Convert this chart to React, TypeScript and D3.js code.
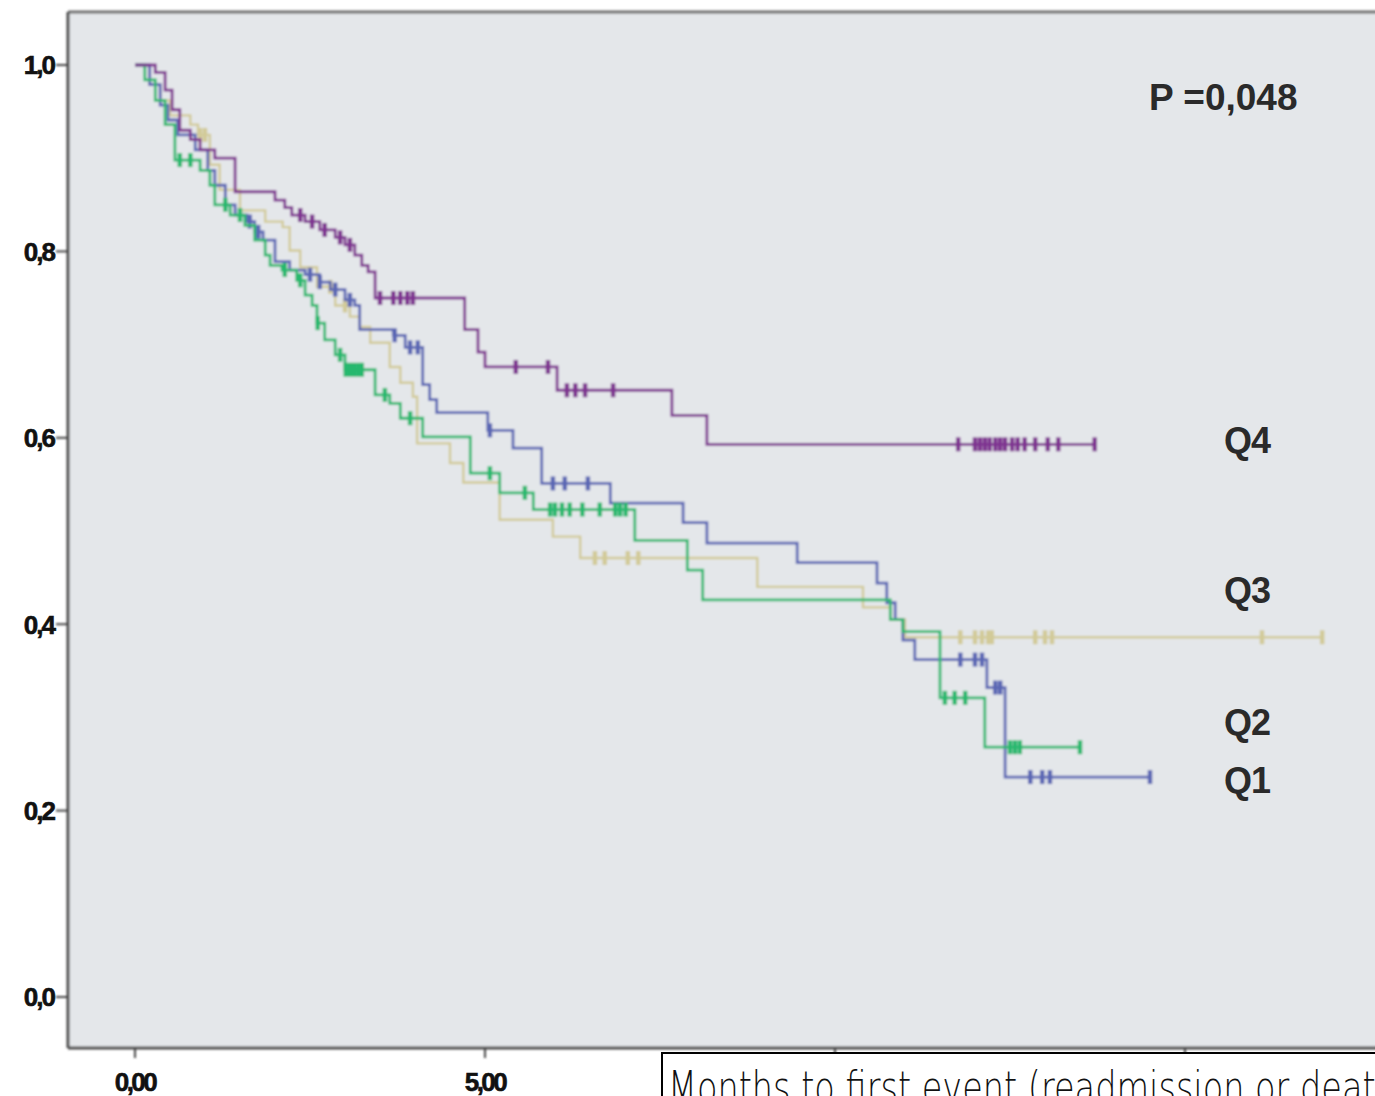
import React from "react";
import * as d3 from "d3";

// ---- Data (time in months, survival proportion) ----
const q4Times = [0, 0.29, 0.43, 0.53, 0.64, 0.79, 0.93, 1.14, 1.43, 2.0, 2.14, 2.24, 2.43, 2.64, 2.86, 3.0, 3.14, 3.24, 3.33, 3.43, 4.71, 4.9, 5.0, 6.03, 7.67, 8.17];
const q4Surv = [1.0, 0.992, 0.973, 0.952, 0.93, 0.92, 0.909, 0.9, 0.864, 0.855, 0.847, 0.839, 0.832, 0.823, 0.815, 0.807, 0.796, 0.785, 0.778, 0.75, 0.716, 0.692, 0.676, 0.651, 0.624, 0.593];
const q4End = 13.71;
const q4Censor = [2.36, 2.53, 2.71, 2.93, 3.07, 3.5, 3.69, 3.79, 3.89, 3.97, 5.44, 5.9, 6.17, 6.29, 6.43, 6.83, 11.76, 12.0, 12.07, 12.14, 12.21, 12.29, 12.36, 12.43, 12.53, 12.61, 12.71, 12.86, 13.04, 13.19, 13.71];

const q1Times = [0, 0.21, 0.36, 0.47, 0.61, 0.86, 1.04, 1.14, 1.29, 1.43, 1.6, 1.71, 1.83, 2.0, 2.21, 2.43, 2.64, 2.79, 3.0, 3.14, 3.21, 3.69, 3.86, 4.11, 4.21, 4.31, 5.04, 5.4, 5.81, 6.79, 7.83, 8.17, 9.46, 10.6, 10.74, 10.86, 10.97, 11.14, 12.17, 12.43];
const q1Surv = [1.0, 0.979, 0.957, 0.941, 0.925, 0.909, 0.887, 0.871, 0.85, 0.839, 0.832, 0.821, 0.812, 0.789, 0.78, 0.775, 0.767, 0.759, 0.748, 0.742, 0.716, 0.71, 0.697, 0.657, 0.641, 0.627, 0.608, 0.589, 0.551, 0.53, 0.509, 0.487, 0.466, 0.444, 0.423, 0.405, 0.383, 0.362, 0.332, 0.236];
const q1End = 14.5;
const q1Censor = [1.64, 1.76, 2.5, 2.64, 2.86, 3.07, 3.71, 3.93, 4.04, 5.07, 5.97, 6.14, 6.47, 11.79, 12.0, 12.1, 12.29, 12.36, 12.79, 12.96, 13.07, 14.5];

const q2Times = [0, 0.14, 0.29, 0.43, 0.57, 0.93, 1.07, 1.14, 1.36, 1.57, 1.71, 1.86, 1.93, 2.1, 2.31, 2.43, 2.53, 2.6, 2.71, 2.86, 3.0, 3.43, 3.64, 3.79, 4.11, 4.79, 5.21, 5.69, 7.14, 7.89, 8.11, 10.79, 10.97, 11.5, 12.14];
const q2Surv = [1.0, 0.984, 0.962, 0.936, 0.898, 0.887, 0.871, 0.85, 0.839, 0.828, 0.812, 0.796, 0.785, 0.78, 0.769, 0.753, 0.742, 0.723, 0.705, 0.689, 0.673, 0.646, 0.637, 0.621, 0.601, 0.562, 0.541, 0.523, 0.49, 0.458, 0.426, 0.405, 0.392, 0.321, 0.268];
const q2End = 13.5;
const q2Censor = [0.64, 0.79, 1.29, 1.5, 2.14, 2.36, 2.61, 2.93, 3.01, 3.07, 3.13, 3.19, 3.24, 3.57, 3.93, 5.07, 5.57, 5.93, 6.0, 6.1, 6.21, 6.39, 6.64, 6.86, 6.93, 7.01, 11.57, 11.71, 11.86, 12.5, 12.57, 12.64, 13.5];

const q3Times = [0, 0.21, 0.36, 0.5, 0.79, 0.9, 1.07, 1.21, 1.5, 1.86, 2.11, 2.21, 2.36, 2.6, 2.86, 3.07, 3.21, 3.36, 3.64, 3.79, 3.97, 4.03, 4.5, 4.69, 5.21, 5.97, 6.36, 8.89, 10.4, 10.79, 11.0];
const q3Surv = [1.0, 0.979, 0.962, 0.946, 0.936, 0.925, 0.893, 0.866, 0.844, 0.832, 0.826, 0.801, 0.783, 0.762, 0.742, 0.73, 0.719, 0.702, 0.676, 0.659, 0.644, 0.594, 0.573, 0.552, 0.512, 0.494, 0.471, 0.44, 0.418, 0.405, 0.386];
const q3End = 16.96;
const q3Censor = [0.93, 1.0, 2.79, 3.0, 6.57, 6.71, 7.04, 7.19, 11.79, 12.0, 12.1, 12.19, 12.24, 12.86, 13.0, 13.1, 16.1, 16.96];

const groupNames = ["Q3", "Q1", "Q2", "Q4"];
const groupColors = ["#d2ca98", "#5a66b4", "#27b86e", "#7e3190"];
const labelValues = [0.437, 0.233, 0.295, 0.598];

const yTicks = [0, 0.2, 0.4, 0.6, 0.8, 1.0];
const xTicks = [0, 5, 10, 15];
const xTickLabelsShown = [0, 5];
const pText = "P =0,048";
const xTitle = "Months to first event (readmission or death)";

const series = [
  { times: q3Times, surv: q3Surv, end: q3End, censor: q3Censor },
  { times: q1Times, surv: q1Surv, end: q1End, censor: q1Censor },
  { times: q2Times, surv: q2Surv, end: q2End, censor: q2Censor },
  { times: q4Times, surv: q4Surv, end: q4End, censor: q4Censor },
];

const W = 1375;
const H = 1096;
const plotLeft = 68;
const plotTop = 12;
const plotBottom = 1048;
const plotRight = 1390;

const x = d3.scaleLinear().domain([0, 5]).range([135, 485]);
const y = d3.scaleLinear().domain([0, 1]).range([997, 65]);

function survAt(times: number[], surv: number[], t: number) {
  let v = surv[0];
  for (let i = 0; i < times.length; i++) if (times[i] <= t + 1e-9) v = surv[i];
  return v;
}

const line = d3
  .line<[number, number]>()
  .x((d) => x(d[0]))
  .y((d) => y(d[1]))
  .curve(d3.curveStepAfter);

const boldFont = "Liberation Sans, Arial, sans-serif";

export default function App() {
  const fmtY = (v: number) => d3.format(".1f")(v).replace(".", ",");
  const fmtX = (v: number) => d3.format(".2f")(v).replace(".", ",");
  return (
    <svg width={W} height={H} style={{ position: "absolute", left: 0, top: 0, background: "#fff" }}>
      <defs>
        <filter id="soft" x="-5%" y="-5%" width="110%" height="110%">
          <feGaussianBlur stdDeviation="0.8" />
        </filter>
      </defs>
      <g filter="url(#soft)">
        <rect x={plotLeft} y={plotTop} width={plotRight - plotLeft} height={plotBottom - plotTop} fill="#e4e7ea" />
        {/* frame */}
        <line x1={plotLeft} y1={plotTop} x2={plotRight} y2={plotTop} stroke="#6e6e6e" strokeWidth={3} />
        <line x1={plotLeft} y1={plotTop} x2={plotLeft} y2={plotBottom} stroke="#4a4a4a" strokeWidth={3} />
        <line x1={plotLeft} y1={plotBottom} x2={plotRight} y2={plotBottom} stroke="#4a4a4a" strokeWidth={3} />
        {yTicks.map((t) => (
          <line key={"yt" + t} x1={plotLeft - 12} x2={plotLeft} y1={y(t)} y2={y(t)} stroke="#444" strokeWidth={2} />
        ))}
        {xTicks.map((t) => (
          <line key={"xt" + t} x1={x(t)} x2={x(t)} y1={plotBottom} y2={plotBottom + 10} stroke="#444" strokeWidth={2} />
        ))}
        {/* curves */}
        {series.map((s, i) => {
          const pts: [number, number][] = s.times.map((t, j) => [t, s.surv[j]] as [number, number]);
          pts.push([s.end, s.surv[s.surv.length - 1]]);
          return (
            <g key={groupNames[i]}>
              <path d={line(pts) || ""} fill="none" stroke={groupColors[i]} strokeWidth={i === 0 ? 2.4 : 2.8} />
              {s.censor.map((c, k) => {
                const cy = y(survAt(s.times, s.surv, c));
                return (
                  <line
                    key={k}
                    x1={x(c)}
                    x2={x(c)}
                    y1={cy - 7}
                    y2={cy + 7}
                    stroke={groupColors[i]}
                    strokeWidth={4.5}
                  />
                );
              })}
            </g>
          );
        })}
      </g>
      {/* y tick labels */}
      {yTicks.map((t) => (
        <text
          key={"yl" + t}
          x={plotLeft - 14}
          y={y(t)}
          dy="0.36em"
          textAnchor="end"
          fontFamily={boldFont}
          fontWeight="bold"
          fontSize={26}
          fill="#111"
          letterSpacing={-2}
          stroke="#111"
          strokeWidth={0.6}
        >
          {fmtY(t)}
        </text>
      ))}
      {/* x tick labels */}
      {xTickLabelsShown.map((t) => (
        <text
          key={"xl" + t}
          x={x(t)}
          y={1091}
          textAnchor="middle"
          fontFamily={boldFont}
          fontWeight="bold"
          fontSize={26}
          fill="#111"
          letterSpacing={-2.5}
          stroke="#111"
          strokeWidth={0.6}
        >
          {fmtX(t)}
        </text>
      ))}
      {/* group labels */}
      {groupNames.map((g, i) => (
        <text
          key={"lab" + g}
          x={1224}
          y={y(labelValues[i])}
          dy="0.36em"
          fontFamily={boldFont}
          fontWeight="bold"
          fontSize={36}
          fill="#2a2a2a"
          letterSpacing={-1}
        >
          {g}
        </text>
      ))}
      <text x={1149} y={110} fontFamily={boldFont} fontWeight="bold" fontSize={37} fill="#2a2a2a">
        {pText}
      </text>
      {/* x axis title box */}
      <rect x={662} y={1053} width={800} height={100} fill="#fff" stroke="#000" strokeWidth={2} />
      <text
        x={668}
        y={1103}
        fontFamily="DejaVu Sans, sans-serif"
        fontWeight={300}
        fontSize={44}
        fill="#111"
        textLength={742}
        lengthAdjust="spacingAndGlyphs"
      >
        {xTitle}
      </text>
    </svg>
  );
}
